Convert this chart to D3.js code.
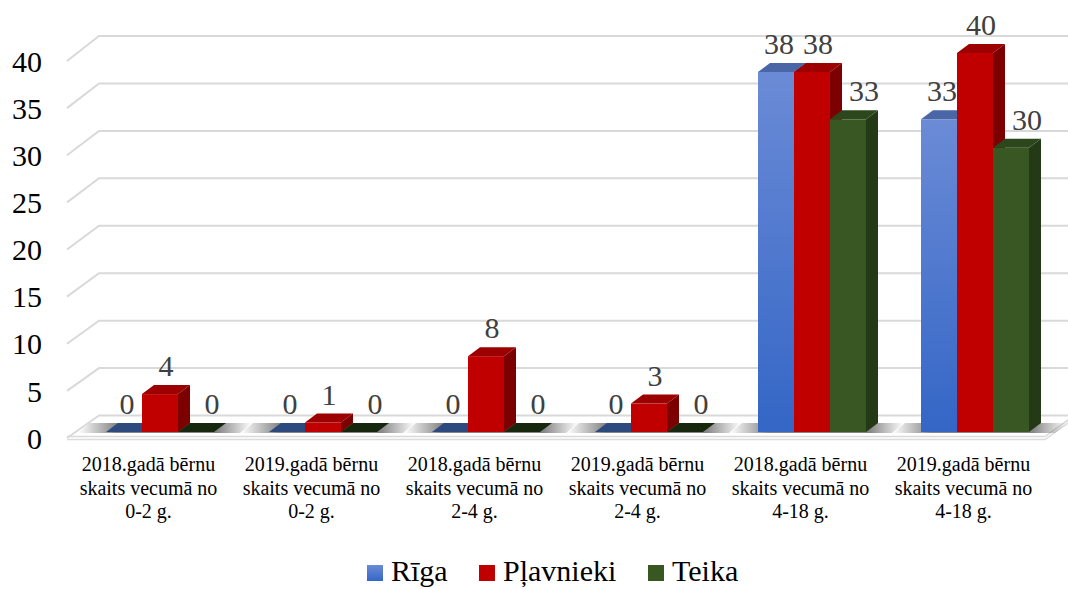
<!DOCTYPE html>
<html>
<head>
<meta charset="utf-8">
<script src="https://cdn.jsdelivr.net/npm/d3@7"></script>
</head>
<body style="margin:0; background:#fff">
<svg id="chart" width="1068" height="589"></svg>
<script>
// chart data
const categories = [
  '2018.gadā bērnu|skaits vecumā no|0-2 g.',
  '2019.gadā bērnu|skaits vecumā no|0-2 g.',
  '2018.gadā bērnu|skaits vecumā no|2-4 g.',
  '2019.gadā bērnu|skaits vecumā no|2-4 g.',
  '2018.gadā bērnu|skaits vecumā no|4-18 g.',
  '2019.gadā bērnu|skaits vecumā no|4-18 g.',
];
const seriesNames = ['Rīga', 'Pļavnieki', 'Teika'];
const riga = [0, 0, 0, 0, 38, 33];
const plavnieki = [4, 1, 8, 3, 38, 40];
const teika = [0, 0, 0, 0, 33, 30];
const yTicks = [0, 5, 10, 15, 20, 25, 30, 35, 40];

const seriesValues = [riga, plavnieki, teika];
const textFont = '"Liberation Serif"';

// colours per series: front, side, top, flat (zero height)
const colors = [
  { front: 'url(#blueGrad)', side: '#2c4f96', top: '#4a66a6', flat: '#2d4a7e', legend: 'url(#blueGrad)' },
  { front: '#c00000', side: '#7d0000', top: '#9c0000', flat: '#a00000', legend: '#c00000' },
  { front: '#385723', side: '#243a16', top: '#2c471b', flat: '#17270e', legend: '#385723' },
];
const labelShift = [3, 6, 16];

const svg = d3.select('#chart');
const chartWidth = 1068;

const defs = svg.append('defs');
const grad = defs.append('linearGradient')
  .attr('id', 'blueGrad').attr('x1', 0).attr('y1', 0).attr('x2', 0).attr('y2', 1);
grad.append('stop').attr('offset', '0%').attr('stop-color', '#6b8bd6');
grad.append('stop').attr('offset', '100%').attr('stop-color', '#3466c6');

// shadow: fades out at both ends and towards the back
const shadowGrad = defs.append('linearGradient')
  .attr('id', 'shadowGrad').attr('x1', 0).attr('y1', 0).attr('x2', 1).attr('y2', 0);
[[0, 0], [0.22, 0.6], [0.8, 0.6], [1, 0]].forEach(([o, a]) => {
  shadowGrad.append('stop').attr('offset', o).attr('stop-color', '#333').attr('stop-opacity', a);
});

// 3d geometry
const floorLeft = 67, floorRight = 1045;
const depthX = 32, depthY = -23;
const barShiftX = 11.5;
const barDX = 12, barDY = -9;

const yFront = d3.scaleLinear().domain([0, 40]).range([438, 61]);
const yBack = d3.scaleLinear().domain([0, 40]).range([415.5, 36]);
const yBar = d3.scaleLinear().domain([0, 40]).range([432, 53]);

const x0 = d3.scaleBand().domain(d3.range(categories.length)).range([floorLeft, floorRight]);
const x1 = d3.scaleBand().domain(d3.range(seriesNames.length)).range([27.5, x0.bandwidth() - 27.5]);

// gridlines (left wall + back wall)
svg.append('g')
  .selectAll('path')
  .data(yTicks)
  .enter()
  .append('path')
  .attr('d', v => `M${floorLeft},${yFront(v)}L${floorLeft + depthX},${yBack(v)}H${chartWidth}`)
  .attr('fill', 'none')
  .attr('stroke', '#d9d9d9')
  .attr('stroke-width', 2);

// floor slab front edge
const fy = yFront(0);
svg.append('path')
  .attr('d', `M${floorLeft},${fy - 1.5}H${floorRight}L${floorRight + depthX},${fy - 1.5 + depthY}`)
  .attr('fill', 'none').attr('stroke', '#d9d9d9').attr('stroke-width', 1.5);
svg.append('path')
  .attr('d', `M${floorLeft},${fy + 1.5}H${floorRight}L${floorRight + depthX},${fy + 1.5 + depthY}`)
  .attr('fill', 'none').attr('stroke', '#dcdcdc').attr('stroke-width', 1.5);

// groups
const groups = svg.append('g')
  .selectAll('g')
  .data(categories)
  .enter()
  .append('g')
  .attr('transform', (d, i) => `translate(${x0(i) + barShiftX},0)`);

// soft shadow under each group
groups.append('path')
  .attr('d', () => {
    const xa = x1(0) - 28, xb = x1(2) + x1.bandwidth() + 26;
    const b = yBar(0) + 1;
    return `M${xa},${b}L${xb},${b}L${xb + barDX},${b + barDY - 1}L${xa + barDX},${b + barDY - 1}Z`;
  })
  .attr('fill', 'url(#shadowGrad)');

// bars
const barData = (d, i) => seriesValues.map((vals, s) => ({ s, v: vals[i] }));
const bars = groups.selectAll('g.bar')
  .data(barData)
  .enter()
  .append('g')
  .attr('class', 'bar');

bars.each(function (d) {
  const g = d3.select(this);
  const x = x1(d.s), w = x1.bandwidth();
  const b = yBar(0), t = yBar(d.v);
  const c = colors[d.s];
  if (d.v === 0) {
    g.append('path')
      .attr('d', `M${x},${b}H${x + w}L${x + w + barDX},${b + barDY}H${x + barDX}Z`)
      .attr('fill', c.flat);
    return;
  }
  g.append('rect').attr('x', x).attr('y', t).attr('width', w).attr('height', b - t).attr('fill', c.front);
  g.append('path')
    .attr('d', `M${x + w},${b}V${t}L${x + w + barDX},${t + barDY}V${b + barDY}Z`)
    .attr('fill', c.side);
  g.append('path')
    .attr('d', `M${x},${t}H${x + w}L${x + w + barDX},${t + barDY}H${x + barDX}Z`)
    .attr('fill', c.top);
});

// value labels
bars.append('text')
  .attr('x', d => x1(d.s) + x1.bandwidth() / 2 + labelShift[d.s])
  .attr('y', d => yBar(d.v) + barDY - 9)
  .attr('text-anchor', 'middle')
  .attr('fill', '#404040')
  .attr('font-size', 30)
  .text(d => d.v);

// y axis labels
const yAxis = svg.append('g')
  .attr('transform', 'translate(42,0)')
  .call(d3.axisLeft(yFront).tickValues(yTicks).tickSize(0).tickPadding(0));
yAxis.attr('font-family', null).attr('font-size', null);
yAxis.select('.domain').remove();
yAxis.selectAll('text')
  .attr('font-size', 30)
  .attr('fill', '#000')
  .attr('dy', '0.34em');

// category labels
const catLabels = svg.append('g')
  .selectAll('text')
  .data(categories)
  .enter()
  .append('text')
  .attr('text-anchor', 'middle')
  .attr('font-size', 20)
  .attr('fill', '#000');
catLabels.each(function (d, i) {
  const lines = d.split('|');
  d3.select(this).selectAll('tspan')
    .data(lines)
    .enter()
    .append('tspan')
    .attr('x', x0(i) + x0.bandwidth() / 2)
    .attr('y', (l, j) => 471 + j * 23.5)
    .text(l => l);
});

// legend
const legendG = svg.append('g');
const items = legendG.selectAll('g')
  .data(seriesNames)
  .enter()
  .append('g');
items.append('rect')
  .attr('width', 16).attr('height', 16).attr('y', -16)
  .attr('fill', (d, i) => colors[i].legend);
items.append('text')
  .attr('x', 24)
  .attr('font-size', 30)
  .attr('fill', '#000')
  .text(d => d);

// serif on every text
svg.selectAll('text').style('font-family', textFont);

// legend widths from a rough per-name estimate, then centred
const nameWidth = [59, 116, 71];
let legendX = 0;
const legendPos = [];
nameWidth.forEach(w => {
  legendPos.push(legendX);
  legendX += 24 + w + 29;
});
const legendStart = 555 - (legendX - 29) / 2;
items.attr('transform', (d, i) => `translate(${legendStart + legendPos[i]},581)`);
</script>
</body>
</html>
